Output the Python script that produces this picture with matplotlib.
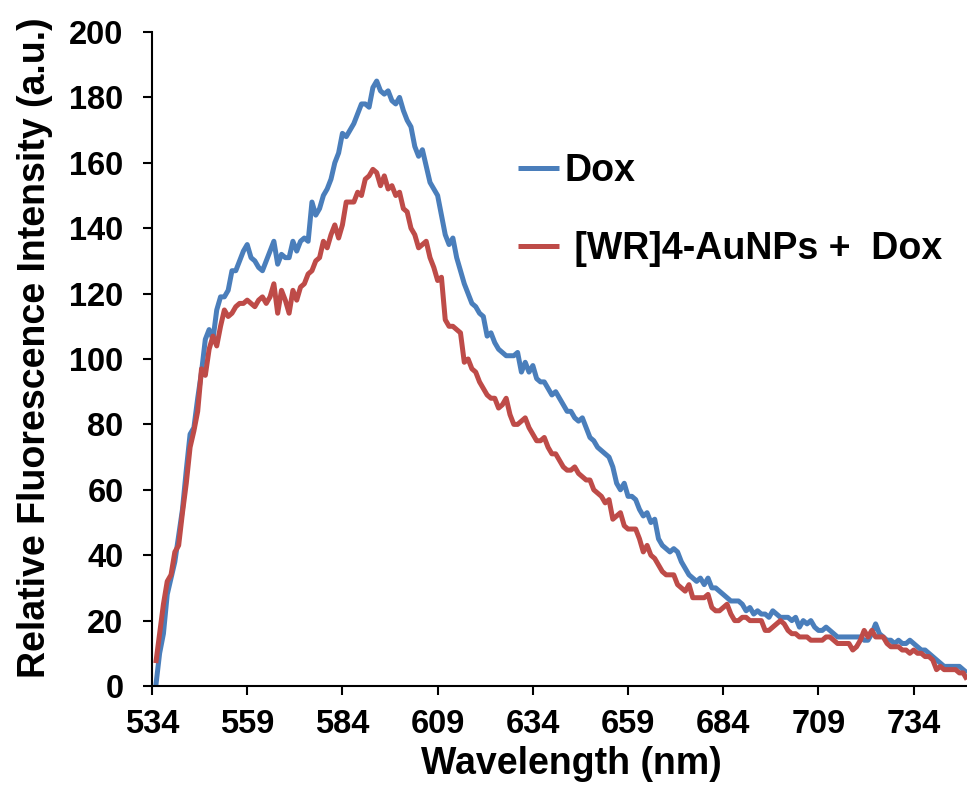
import numpy as np
import matplotlib
matplotlib.use("Agg")
import matplotlib.pyplot as plt

plt.rcParams['font.family'] = ['Liberation Sans', 'DejaVu Sans']
plt.rcParams['font.weight'] = 'bold'

# Emission wavelengths (nm), 1 nm steps
wavelength = np.arange(535, 749)

# Fluorescence of free doxorubicin
dox = [
    0, 10, 16, 28, 33, 38, 46, 54, 66, 77,              # 535-544
    79, 88, 96, 106, 109, 106, 115, 119, 119, 121,      # 545-554
    127, 127, 130, 133, 135, 131, 130, 128, 127, 130,   # 555-564
    133, 136, 129, 132, 131, 131, 136, 133, 136, 137,   # 565-574
    136, 148, 144, 146, 150, 152, 155, 160, 163, 169,   # 575-584
    168, 170, 172, 175, 178, 178, 177, 183, 185, 182,   # 585-594
    181, 182, 179, 178, 180, 176, 173, 171, 165, 162,   # 595-604
    164, 159, 154, 152, 150, 144, 138, 135, 137, 131,   # 605-614
    127, 123, 120, 117, 116, 114, 113, 107, 108, 105,   # 615-624
    103, 102, 101, 101, 101, 102, 96, 99, 96, 98,       # 625-634
    94, 93, 93, 91, 89, 90, 88, 86, 84, 84,             # 635-644
    82, 81, 82, 79, 76, 75, 73, 72, 71, 70,             # 645-654
    67, 62, 60, 62, 58, 58, 57, 54, 52, 53,             # 655-664
    50, 51, 45, 43, 42, 41, 42, 41, 38, 36,             # 665-674
    34, 33, 32, 33, 31, 33, 30, 30, 29, 28,             # 675-684
    27, 26, 26, 26, 25, 23, 24, 22, 23, 22,             # 685-694
    22, 21, 23, 22, 21, 21, 21, 20, 21, 18,             # 695-704
    20, 19, 20, 18, 17, 17, 18, 17, 16, 15,             # 705-714
    15, 15, 15, 15, 15, 15, 14, 14, 16, 19,             # 715-724
    16, 15, 14, 14, 13, 14, 13, 13, 14, 13,             # 725-734
    12, 11, 11, 10, 9, 8, 7, 6, 6, 6,                   # 735-744
    6, 6, 5, 4,                                         # 745-748
]

# Fluorescence of doxorubicin with [WR]4-AuNPs
wr4_dox = [
    7, 16, 25, 32, 34, 41, 43, 53, 62, 73,              # 535-544
    78, 84, 97, 95, 103, 107, 104, 110, 115, 113,       # 545-554
    114, 116, 117, 117, 118, 117, 116, 118, 119, 117,   # 555-564
    119, 123, 114, 121, 118, 114, 121, 118, 122, 123,   # 565-574
    126, 127, 130, 131, 136, 134, 138, 141, 137, 141,   # 575-584
    148, 148, 148, 151, 150, 155, 156, 158, 157, 153,   # 585-594
    156, 152, 153, 150, 151, 146, 145, 140, 138, 134,   # 595-604
    135, 136, 131, 128, 124, 125, 112, 110, 110, 109,   # 605-614
    108, 99, 100, 97, 96, 93, 91, 89, 88, 88,           # 615-624
    85, 86, 88, 83, 80, 80, 81, 82, 79, 77,             # 625-634
    75, 75, 76, 73, 71, 71, 69, 67, 66, 66,             # 635-644
    67, 65, 64, 63, 63, 60, 59, 58, 56, 57,             # 645-654
    51, 52, 53, 49, 48, 48, 48, 45, 41, 43,             # 655-664
    40, 39, 37, 35, 34, 34, 34, 31, 30, 29,             # 665-674
    31, 27, 27, 27, 27, 28, 24, 23, 23, 24,             # 675-684
    25, 22, 20, 20, 21, 21, 20, 20, 20, 20,             # 685-694
    17, 17, 18, 19, 20, 19, 17, 16, 16, 15,             # 695-704
    15, 15, 14, 14, 14, 14, 15, 15, 14, 13,             # 705-714
    13, 13, 13, 11, 12, 14, 17, 15, 17, 15,             # 715-724
    15, 15, 13, 12, 12, 12, 11, 11, 10, 11,             # 725-734
    10, 10, 9, 9, 8, 5, 6, 5, 5, 5,                     # 735-744
    5, 4, 4, 2,                                         # 745-748
]

series_labels = ["Dox", " [WR]4-AuNPs +  Dox"]
series_colors = ["#4A7EBB", "#BE4B48"]

x_ticks = [534, 559, 584, 609, 634, 659, 684, 709, 734]
y_ticks = [0, 20, 40, 60, 80, 100, 120, 140, 160, 180, 200]

W, H = 967, 799
fig = plt.figure(figsize=(W / 100, H / 100), dpi=100)
ax = fig.add_axes([152 / W, 1 - 686 / H, (967 - 152) / W, (686 - 32) / H])

for yv, lab, col in zip([dox, wr4_dox], series_labels, series_colors):
    ax.plot(wavelength, yv, color=col, lw=3.6, label=lab,
            solid_joinstyle='round', solid_capstyle='butt')

ax.set_xlim(534, 748)
ax.set_ylim(0, 200)
ax.set_xticks(x_ticks)
ax.set_yticks(y_ticks)

for s in ['top', 'right']:
    ax.spines[s].set_visible(False)
for s in ['left', 'bottom']:
    ax.spines[s].set_linewidth(1.5)
    ax.spines[s].set_color('black')

ax.tick_params(axis='both', direction='out', length=6.5, width=1.5,
               labelsize=23.5, colors='black')
ax.tick_params(axis='x', pad=10)
ax.tick_params(axis='y', pad=14)
for t in ax.get_xticklabels() + ax.get_yticklabels():
    t.set_fontweight('bold')

ax.set_xlabel("Wavelength (nm)", fontsize=27, fontweight='bold')
ax.set_ylabel("Relative Fluorescence Intensity (a.u.)", fontsize=27,
              fontweight='bold')
ax.xaxis.set_label_coords(0.514, -0.092)
ax.yaxis.set_label_coords(-0.122, 0.518)

leg = ax.legend(loc='upper left', bbox_to_anchor=(0.449, 0.815), frameon=False,
                fontsize=27, handlelength=1.1, handletextpad=0.13,
                labelspacing=1.13, borderaxespad=0, borderpad=0)
for t in leg.get_texts():
    t.set_fontweight('bold')

fig.savefig("out.png", dpi=100)
